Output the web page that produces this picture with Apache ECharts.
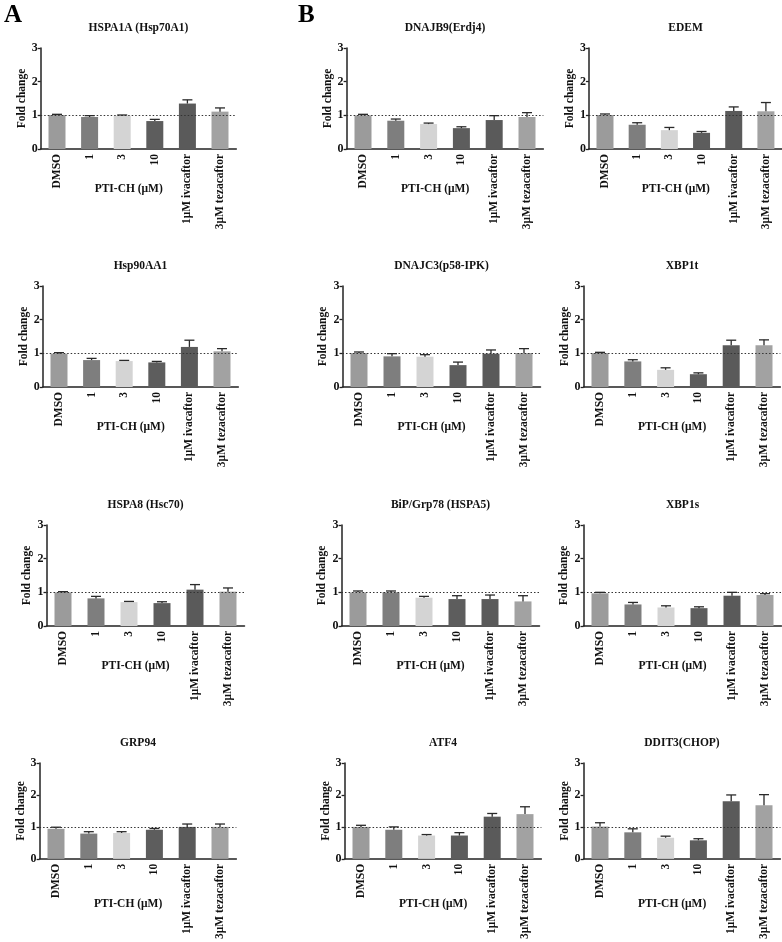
<!DOCTYPE html>
<html>
<head>
<meta charset="utf-8">
<script src="https://cdn.jsdelivr.net/npm/echarts@6/dist/echarts.min.js"></script>
<style>
html,body{margin:0;padding:0;background:#fff;}
#chart{width:782px;height:942px;}
</style>
</head>
<body>
<div id="chart"></div>
<script>
// ---- data ----
const categories = ['DMSO', '1', '3', '10', '1\u03BCM ivacaftor', '3\u03BCM tezacaftor'];
const xAxisTitle = 'PTI-CH (\u03BCM)';
const yAxisTitle = 'Fold change';
const yTicks = [0, 1, 2, 3];

const titles = ['HSPA1A (Hsp70A1)', 'DNAJB9(Erdj4)', 'EDEM',
                'Hsp90AA1', 'DNAJC3(p58-IPK)', 'XBP1t',
                'HSPA8 (Hsc70)', 'BiP/Grp78 (HSPA5)', 'XBP1s',
                'GRP94', 'ATF4', 'DDIT3(CHOP)'];

const hspa1aMean = [1.01, 0.95, 0.99, 0.83, 1.35, 1.11];
const hspa1aErr  = [0.02, 0.04, 0.02, 0.05, 0.11, 0.11];
const dnajb9Mean = [1.00, 0.84, 0.74, 0.62, 0.86, 0.95];
const dnajb9Err  = [0.03, 0.05, 0.03, 0.04, 0.13, 0.13];
const edemMean   = [1.01, 0.72, 0.56, 0.48, 1.13, 1.12];
const edemErr    = [0.03, 0.06, 0.08, 0.04, 0.12, 0.26];
const hsp90Mean  = [0.99, 0.80, 0.77, 0.73, 1.19, 1.06];
const hsp90Err   = [0.03, 0.05, 0.02, 0.03, 0.20, 0.08];
const dnajc3Mean = [1.01, 0.91, 0.90, 0.65, 0.99, 1.01];
const dnajc3Err  = [0.03, 0.08, 0.06, 0.09, 0.11, 0.13];
const xbp1tMean  = [1.01, 0.76, 0.51, 0.38, 1.24, 1.24];
const xbp1tErr   = [0.02, 0.05, 0.06, 0.04, 0.15, 0.16];
const hspa8Mean  = [1.00, 0.82, 0.71, 0.68, 1.08, 1.02];
const hspa8Err   = [0.02, 0.06, 0.02, 0.04, 0.15, 0.11];
const bipMean    = [1.00, 1.00, 0.84, 0.80, 0.80, 0.73];
const bipErr     = [0.04, 0.04, 0.04, 0.10, 0.12, 0.17];
const xbp1sMean  = [0.97, 0.64, 0.55, 0.53, 0.90, 0.92];
const xbp1sErr   = [0.03, 0.06, 0.05, 0.04, 0.10, 0.04];
const grp94Mean  = [0.94, 0.79, 0.81, 0.91, 1.00, 1.00];
const grp94Err   = [0.05, 0.06, 0.04, 0.04, 0.09, 0.09];
const atf4Mean   = [1.00, 0.91, 0.73, 0.73, 1.32, 1.40];
const atf4Err    = [0.05, 0.09, 0.03, 0.09, 0.10, 0.23];
const ddit3Mean  = [1.01, 0.83, 0.66, 0.58, 1.80, 1.68];
const ddit3Err   = [0.12, 0.11, 0.05, 0.05, 0.20, 0.33];

const means = [hspa1aMean, dnajb9Mean, edemMean, hsp90Mean, dnajc3Mean, xbp1tMean,
               hspa8Mean, bipMean, xbp1sMean, grp94Mean, atf4Mean, ddit3Mean];
const errs  = [hspa1aErr, dnajb9Err, edemErr, hsp90Err, dnajc3Err, xbp1tErr,
               hspa8Err, bipErr, xbp1sErr, grp94Err, atf4Err, ddit3Err];

// ---- style / layout ----
const barColors = ['#9b9b9b', '#7e7e7e', '#d4d4d4', '#5d5d5d', '#5a5a5a', '#a2a2a2'];
// [first bar centre x, last bar centre x, y of 3, y of 0]
const layout = [
  [57, 220, 48, 149], [363, 527, 48, 149], [605, 766, 48, 149],
  [59, 222, 286, 387], [359, 524, 286, 387], [600, 764, 286, 387],
  [63, 228, 525, 626], [358, 523, 525, 626], [600, 765, 525, 626],
  [56, 220, 763, 864], [361, 525, 763, 864], [600, 764, 763, 864]
];
const FONT = "'Liberation Serif', 'Times New Roman', serif";
const AX = '#222';

const chart = echarts.init(document.getElementById('chart'), null, {renderer: 'canvas'});
const grids = [], xAxes = [], yAxes = [], series = [], graphics = [];

graphics.push({type: 'text', x: 4, y: 3, style: {text: 'A', font: 'bold 25px ' + FONT, fill: '#000'}});
graphics.push({type: 'text', x: 298, y: 3, style: {text: 'B', font: 'bold 25px ' + FONT, fill: '#000'}});

layout.forEach((L, i) => {
  const [c0, c5, y3, y0] = L;
  const w = (c5 - c0) / 5;
  const left = c0 - w / 2;
  grids.push({left: left, top: y3, width: 6 * w, height: y0 - y3});
  xAxes.push({
    type: 'category', gridIndex: i, data: categories,
    axisLine: {lineStyle: {color: AX, width: 1.5}},
    axisTick: {alignWithLabel: true, length: 3, lineStyle: {color: AX, width: 1.3}},
    axisLabel: {rotate: 90, interval: 0, margin: 5, color: '#111',
                fontFamily: FONT, fontWeight: 'bold', fontSize: 11.5}
  });
  yAxes.push({
    type: 'value', gridIndex: i, min: yTicks[0], max: yTicks[yTicks.length - 1], interval: 1,
    axisLine: {show: true, lineStyle: {color: AX, width: 1.5}},
    axisTick: {show: true, length: 3, lineStyle: {color: AX, width: 1.3}},
    splitLine: {show: false},
    axisLabel: {margin: 3, color: '#111', fontFamily: FONT, fontWeight: 'bold', fontSize: 12},
    name: yAxisTitle, nameLocation: 'middle', nameGap: 13,
    nameTextStyle: {color: '#111', fontFamily: FONT, fontWeight: 'bold', fontSize: 11.5}
  });
  series.push({
    type: 'bar', xAxisIndex: i, yAxisIndex: i, barWidth: 17,
    data: means[i].map((v, j) => ({value: v, itemStyle: {color: barColors[j]}})),
    markLine: {
      silent: true, symbol: ['none', 'none'], label: {show: false},
      lineStyle: {type: [1.5, 2], color: '#333', width: 1},
      data: [{yAxis: 1}]
    },
    animation: false
  });
  series.push({
    type: 'custom', xAxisIndex: i, yAxisIndex: i, z: 5,
    data: means[i].map((v, j) => [j, v, v + errs[i][j]]),
    renderItem: function (params, api) {
      const b = api.coord([api.value(0), api.value(1)]);
      const t = api.coord([api.value(0), api.value(2)]);
      const s = {stroke: '#2a2a2a', lineWidth: 1.3};
      return {type: 'group', children: [
        {type: 'line', shape: {x1: b[0], y1: b[1], x2: t[0], y2: t[1]}, style: s},
        {type: 'line', shape: {x1: t[0] - 5, y1: t[1], x2: t[0] + 5, y2: t[1]}, style: s}
      ]};
    },
    animation: false
  });
  graphics.push({type: 'text', x: left + 3 * w, y: y3 - 20,
    style: {text: titles[i], font: 'bold 11.5px ' + FONT, fill: '#111', textAlign: 'center', textVerticalAlign: 'middle'}});
  graphics.push({type: 'text', x: c0 + 2.2 * w, y: y0 + 40,
    style: {text: xAxisTitle, font: 'bold 11.5px ' + FONT, fill: '#111', textAlign: 'center', textVerticalAlign: 'middle'}});
});

chart.setOption({
  animation: false,
  backgroundColor: '#fff',
  grid: grids, xAxis: xAxes, yAxis: yAxes, series: series, graphic: graphics
});
</script>
</body>
</html>
